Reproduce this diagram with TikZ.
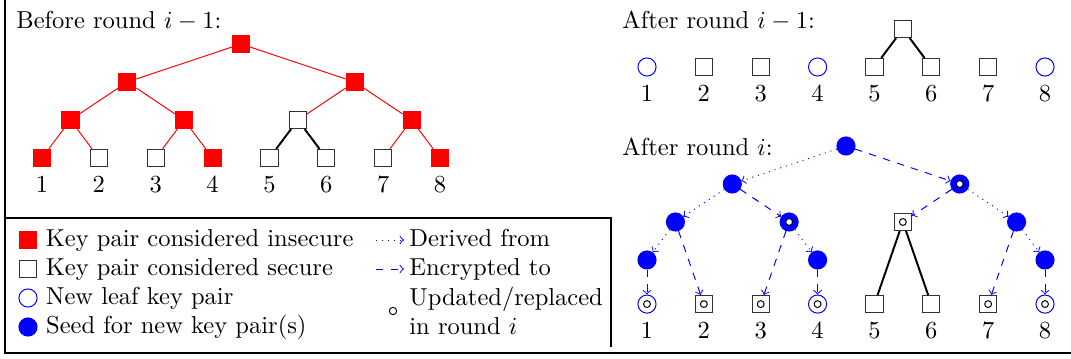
\documentclass[tikz,border=0pt]{standalone}
\usetikzlibrary{positioning}

\tikzset{
  keybox/.style={rectangle, minimum size=7pt, inner sep=0pt},
  insecure/.style={keybox, draw=red, fill=red},
  secure/.style={keybox, draw=black!80, fill=white},
  newleaf/.style={circle, minimum size=7.4pt, inner sep=0pt, draw=blue},
  seed/.style={newleaf, fill=blue},
  updmark/.style={circle, draw=black, fill=white, minimum size=3pt, inner sep=0pt},
  updated/.style={path picture={\draw[black, fill=white] (path picture bounding box.center) circle (1.4pt);}},
  leafnum/.style={label={below:#1}},
  derived/.style={->, blue, dotted},
  encrypted/.style={->, blue, dashed},
  insecureedge/.style={red},
  secureedge/.style={thick},
  heading/.style={anchor=base west, inner sep=0pt},
  legendtext/.style={anchor=west, inner xsep=1pt},
  legendline/.style={legendtext, text height=7pt, text depth=2pt},
}

\begin{document}
\begin{tikzpicture}[x=0.408pt, y=-0.408pt]
\useasboundingbox (0,0) rectangle (1071,358);

% frame
\draw[semithick] (5,0) -- (5,353) -- (1071,353);
\draw[semithick] (5,218) -- (611,218) -- (611,347);

% before round i-1
\node[heading] (hb) at (16,28) {Before round $i-1$:};
\begin{scope}[on grid]
\node[insecure] (b) at (241,44) {};
\node[insecure, below left=15.5pt and 46.4pt of b] (bn1) {};
\node[insecure, below right=15.5pt and 46.4pt of b] (bn2) {};
\node[insecure, below left=15.5pt and 23.2pt of bn1] (bm1) {};
\node[insecure, below right=15.5pt and 23.2pt of bn1] (bm2) {};
\node[secure, below left=15.5pt and 23.2pt of bn2] (bm3) {};
\node[insecure, below right=15.5pt and 23.2pt of bn2] (bm4) {};
\node[insecure, leafnum=1, below left=15.5pt and 11.6pt of bm1] (bl1) {};
\node[secure, leafnum=2, below right=15.5pt and 11.6pt of bm1] (bl2) {};
\node[secure, leafnum=3, below left=15.5pt and 11.6pt of bm2] (bl3) {};
\node[insecure, leafnum=4, below right=15.5pt and 11.6pt of bm2] (bl4) {};
\node[secure, leafnum=5, below left=15.5pt and 11.6pt of bm3] (bl5) {};
\node[secure, leafnum=6, below right=15.5pt and 11.6pt of bm3] (bl6) {};
\node[secure, leafnum=7, below left=15.5pt and 11.6pt of bm4] (bl7) {};
\node[insecure, leafnum=8, below right=15.5pt and 11.6pt of bm4] (bl8) {};
\end{scope}
\draw[insecureedge] (b) -- (bn1) (b) -- (bn2)
  (bn1) -- (bm1) (bn1) -- (bm2) (bn2) -- (bm3) (bn2) -- (bm4)
  (bm1) -- (bl1) (bm1) -- (bl2) (bm2) -- (bl3) (bm2) -- (bl4)
  (bm4) -- (bl7) (bm4) -- (bl8);
\draw[secureedge] (bm3) -- (bl5) (bm3) -- (bl6);

% after round i-1
\node[heading] (hp) at (622,28) {After round $i-1$:};
\begin{scope}[on grid]
\node[newleaf, leafnum=1] (pl1) at (647,67) {};
\node[secure, leafnum=2, right=23.2pt of pl1] (pl2) {};
\node[secure, leafnum=3, right=23.2pt of pl2] (pl3) {};
\node[newleaf, leafnum=4, right=23.2pt of pl3] (pl4) {};
\node[secure, leafnum=5, right=23.2pt of pl4] (pl5) {};
\node[secure, leafnum=6, right=23.2pt of pl5] (pl6) {};
\node[secure, leafnum=7, right=23.2pt of pl6] (pl7) {};
\node[newleaf, leafnum=8, right=23.2pt of pl7] (pl8) {};
\node[secure, above right=15.5pt and 11.6pt of pl5] (pp) {};
\end{scope}
\draw[secureedge] (pp) -- (pl5) (pp) -- (pl6);

% after round i
\node[heading] (ha) at (622,155) {After round $i$:};
\begin{scope}[on grid]
\node[seed] (a) at (846,146) {};
\node[seed, below left=15.5pt and 46.4pt of a] (an1) {};
\node[seed, updated, below right=15.5pt and 46.4pt of a] (an2) {};
\node[seed, below left=15.5pt and 23.2pt of an1] (am1) {};
\node[seed, updated, below right=15.5pt and 23.2pt of an1] (am2) {};
\node[secure, updated, below left=15.5pt and 23.2pt of an2] (am3) {};
\node[seed, below right=15.5pt and 23.2pt of an2] (am4) {};
\node[seed, below left=15.5pt and 11.6pt of am1] (ak1) {};
\node[seed, below right=15.5pt and 11.6pt of am2] (ak2) {};
\node[seed, below right=15.5pt and 11.6pt of am4] (ak4) {};
\node[newleaf, updated, leafnum=1, below=18pt of ak1] (al1) {};
\node[secure, updated, leafnum=2, below right=33.5pt and 11.6pt of am1] (al2) {};
\node[secure, updated, leafnum=3, below left=33.5pt and 11.6pt of am2] (al3) {};
\node[newleaf, updated, leafnum=4, below=18pt of ak2] (al4) {};
\node[secure, leafnum=5, below left=33.5pt and 11.6pt of am3] (al5) {};
\node[secure, leafnum=6, below right=33.5pt and 11.6pt of am3] (al6) {};
\node[secure, updated, leafnum=7, below left=33.5pt and 11.6pt of am4] (al7) {};
\node[newleaf, updated, leafnum=8, below=18pt of ak4] (al8) {};
\end{scope}
\draw[derived] (a) -- (an1);
\draw[derived] (an1) -- (am1);
\draw[derived] (am1) -- (ak1);
\draw[derived] (am2) -- (ak2);
\draw[derived] (an2) -- (am4);
\draw[derived] (am4) -- (ak4);
\draw[encrypted] (a) -- (an2);
\draw[encrypted] (an1) -- (am2);
\draw[encrypted] (an2) -- (am3);
\draw[encrypted] (am1) -- (al2);
\draw[encrypted] (am2) -- (al3);
\draw[encrypted] (am4) -- (al7);
\draw[encrypted] (ak1) -- (al1);
\draw[encrypted] (ak2) -- (al4);
\draw[encrypted] (ak4) -- (al8);
\draw[secureedge] (am3) -- (al5) (am3) -- (al6);

% legend
\node[insecure] (k1) at (28,240) {};
\node[legendline, right=2.4pt of k1] (t1) {Key pair considered insecure};
\node[secure] (k2) at (28,269) {};
\node[legendline, right=2.4pt of k2] (t2) {Key pair considered secure};
\node[newleaf] (k3) at (28,298) {};
\node[legendline, right=2.3pt of k3] (t3) {New leaf key pair};
\node[seed] (k4) at (28,327) {};
\node[legendline, right=2.3pt of k4] (t4) {Seed for new key pair(s)};
\coordinate (d0) at (376,240);
\node[legendline, inner xsep=2pt] (t5) at (404,240) {Derived from};
\draw[derived] (d0) -- (t5);
\coordinate (e0) at (376,269);
\node[legendline, inner xsep=2pt] (t6) at (404,269) {Encrypted to};
\draw[encrypted] (e0) -- (t6);
\node[updmark] (u0) at (393,311) {};
\node[legendtext, align=left, inner xsep=2pt] (t7) at (404,311) {Updated/replaced\\in round $i$};
\end{tikzpicture}
\end{document}
